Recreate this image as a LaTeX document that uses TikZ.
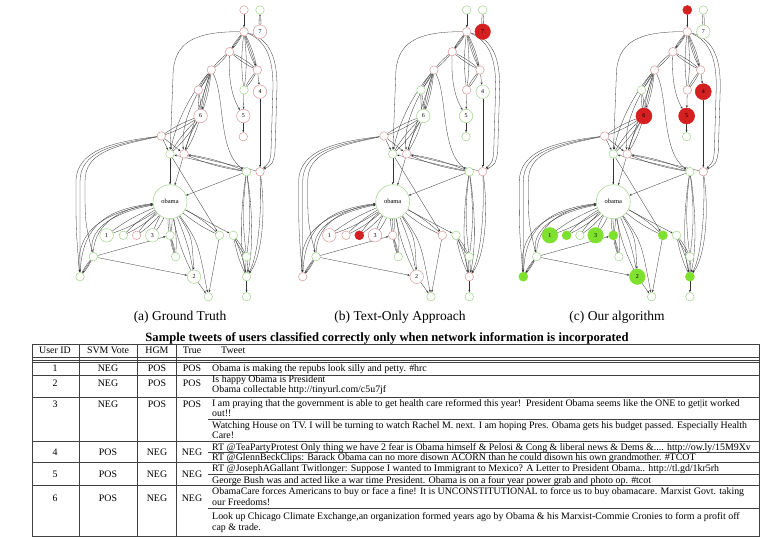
\documentclass[tikz,border=0pt]{standalone}
\usepackage{fontspec}
\setmainfont{Liberation Serif}
\usetikzlibrary{arrows.meta}
\pgfdeclarelayer{bg}
\pgfsetlayers{bg,main}
\definecolor{pkc}{RGB}{222,150,150}
\definecolor{grc}{RGB}{160,212,135}
\definecolor{rdc}{RGB}{212,32,32}
\definecolor{gfc}{RGB}{125,225,45}
\tikzset{
  nd/.style={circle, inner sep=0pt, line width=0.5pt, fill=white, font=\fontsize{6}{6}\selectfont},
  nsm/.style={nd, minimum size=8.5},
  nlb/.style={nd, minimum size=13.5},
  nob/.style={nd, minimum size=34, font=\fontsize{6.5}{6.5}\selectfont},
  pk/.style={draw=pkc},
  gr/.style={draw=grc},
  rd/.style={draw=rdc, fill=rdc},
  gf/.style={draw=gfc, fill=gfc},
  ed/.style={draw=black!80, line width=0.3pt, -{Stealth[length=2.4pt,width=1.9pt]}},
  tl/.style={draw=black!75, line width=0.6pt},
  cl/.style={font=\fontsize{9.9}{11}\selectfont, inner sep=0pt, anchor=base},
  tw/.style={font=\fontsize{9.9}{11}\selectfont, inner sep=0pt, anchor=base west},
  captxt/.style={font=\fontsize{13.5}{14}\selectfont, inner sep=0pt, anchor=base}
}
\newcommand\Eone[2]{\draw[ed] (#1) -- (#2);}
\newcommand\Etwo[2]{\draw[ed] (#1) to[bend left=7] (#2);\draw[ed] (#1) to[bend right=7] (#2);}
\newcommand\Ethree[2]{\Etwo{#1}{#2}\draw[ed] (#1) -- (#2);}
\newcommand\netnodes{%
 \node[nsm,st-t1] (t1) at (74,-191.7) {};
 \node[nsm,st-t2] (t2) at (90,-191.7) {};
 \node[nlb,st-n7] (n7) at (90,-170) {7};
 \node[nsm,st-A] (A) at (74,-170) {};
 \node[nsm,st-B] (B) at (59.6,-150) {};
 \node[nsm,st-C] (C) at (41.3,-131.7) {};
 \node[nsm,st-D] (D) at (87.3,-131.7) {};
 \node[nsm,st-E] (E) at (74,-111.7) {};
 \node[nlb,st-n4] (n4) at (90,-110) {4};
 \node[nlb,st-n5] (n5) at (73.3,-85.7) {5};
 \node[nsm,st-u5] (u5) at (73.3,-65) {};
 \node[nsm,st-F] (F) at (28.3,-111.7) {};
 \node[nlb,st-n6] (n6) at (30.6,-85.7) {6};
 \node[nsm,st-G] (G) at (-8.7,-65.7) {};
 \node[nsm,st-H] (H) at (0,-47.7) {};
 \node[nsm,st-I] (I) at (14,-47.7) {};
 \node[nsm,st-J] (J) at (76.6,-30) {};
 \node[nsm,st-K] (K) at (90,-30) {};
 \node[nob,st-ob] (ob) at (0,0) {obama};
 \node[nlb,st-n1] (n1) at (-63.4,33.6) {1};
 \node[nsm,st-s1] (s1) at (-46.7,33.6) {};
 \node[nsm,st-rf] (rf) at (-33.4,33.6) {};
 \node[nlb,st-n3] (n3) at (-17.7,33.6) {3};
 \node[nsm,st-s3] (s3) at (0,33.6) {};
 \node[nsm,st-L] (L) at (49.6,33.6) {};
 \node[nsm,st-M] (M) at (63.3,33.6) {};
 \node[nsm,st-N] (N) at (5.6,55) {};
 \node[nsm,st-O] (O) at (-76.7,55) {};
 \node[nsm,st-P] (P) at (-90,75) {};
 \node[nlb,st-n2] (n2) at (24,75) {2};
 \node[nsm,st-Q] (Q) at (38.3,95) {};
 \node[nsm,st-R] (R) at (76.6,55) {};
 \node[nsm,st-S] (S) at (76.6,75) {};
 \node[nsm,st-T] (T) at (76.6,95) {};
}
\newcommand\netedges{%
 \begin{pgfonlayer}{bg}
 \Eone{t1}{A}
 \Etwo{t2}{n7}
 \Ethree{A}{B}
 \Ethree{A}{D}
 \Etwo{A}{E}
 \draw[ed] (A) .. controls (98,-160) and (103,-140) .. (103,-115) -- (101,-50) .. controls (100,-40) .. (K);
 \draw[ed] (A) .. controls (102,-162) and (107,-140) .. (107,-115) -- (105,-50) .. controls (103,-38) .. (K);
 \draw[ed] (A) .. controls (25,-170) and (3,-160) .. (3,-125) -- (H);
 \Etwo{B}{C}
 \Etwo{B}{D}
 \draw[ed] (B) .. controls (58,-115) and (65,-100) .. (n5);
 \Etwo{C}{F}
 \Ethree{C}{n6}
 \draw[ed] (C) .. controls (22,-110) and (6,-80) .. (H);
 \draw[ed] (C) .. controls (28,-110) and (10,-80) .. (I);
 \Eone{C}{I}
 \draw[ed] (C) .. controls (55,-105) and (48,-50) .. (J);
 \Etwo{D}{E}
 \Eone{D}{n4}
 \Eone{E}{n5}
 \Eone{n5}{u5}
 \Eone{n4}{K}
 \Etwo{F}{n6}
 \Etwo{n6}{G}
 \Etwo{n6}{H}
 \Etwo{n6}{I}
 \Eone{G}{H}
 \Eone{G}{I}
 \draw[ed] (G) .. controls (-55,-60) and (-94,-52) .. (-94,-20) .. controls (-94,30) .. (P);
 \draw[ed] (G) .. controls (-58,-57) and (-90,-50) .. (-90,-20) .. controls (-90,30) .. (P);
 \draw[ed] (G) .. controls (-60,-55) and (-85,-48) .. (-85,-20) .. controls (-85,20) .. (O);
 \Eone{H}{ob}
 \Eone{I}{ob}
 \Eone{H}{L}
 \Etwo{J}{I}
 \Eone{J}{H}
 \Eone{K}{I}
 \Eone{J}{ob}
 \Etwo{J}{R}
 \draw[ed] (J) .. controls (70,10) and (70,50) .. (S);
 \draw[ed] (J) .. controls (83,10) and (83,50) .. (S);
 \draw[ed] (K) .. controls (92,10) and (88,55) .. (S);
 \draw[ed] (K) .. controls (96,10) and (92,55) .. (S);
 \Etwo{ob}{n1}
 \Etwo{ob}{s1}
 \Etwo{ob}{rf}
 \Etwo{ob}{n3}
 \Etwo{ob}{s3}
 \draw[ed] (P) .. controls (-95,35) and (-75,12) .. (ob);
 \draw[ed] (P) .. controls (-88,30) and (-70,8) .. (ob);
 \draw[ed] (O) .. controls (-82,30) and (-62,12) .. (ob);
 \draw[ed] (O) .. controls (-76,28) and (-58,8) .. (ob);
 \Etwo{ob}{N}
 \Etwo{ob}{n2}
 \draw[ed] (ob) .. controls (22,35) .. (n2);
 \draw[ed] (ob) .. controls (28,40) .. (Q);
 \Etwo{ob}{L}
 \Eone{ob}{M}
 \Ethree{O}{P}
 \Eone{O}{s3}
 \Eone{O}{n2}
 \Etwo{s3}{N}
 \Eone{n2}{Q}
 \Eone{L}{Q}
 \Etwo{M}{R}
 \Etwo{M}{S}
 \Etwo{R}{S}
 \Eone{S}{T}
 \end{pgfonlayer}
}
\begin{document}
\begin{tikzpicture}[x=1pt,y=-1pt]
\useasboundingbox (0,0) rectangle (780,540);
% panel (a)
\begin{scope}[shift={(170,201.7)}, name prefix=a-,
 st-t1/.style=pk, st-t2/.style=gr, st-n7/.style=pk, st-A/.style=pk, st-B/.style=pk,
 st-C/.style=pk, st-D/.style=pk, st-E/.style=gr, st-n4/.style=pk, st-n5/.style=pk,
 st-u5/.style=pk, st-F/.style=pk, st-n6/.style=pk, st-G/.style=pk, st-H/.style=gr,
 st-I/.style=pk, st-J/.style=gr, st-K/.style=pk, st-ob/.style=gr, st-n1/.style=gr,
 st-s1/.style=gr, st-rf/.style=pk, st-n3/.style=gr, st-s3/.style=gr, st-L/.style=gr,
 st-M/.style=gr, st-N/.style=gr, st-O/.style=gr, st-P/.style=gr, st-n2/.style=gr,
 st-Q/.style=gr, st-R/.style=gr, st-S/.style=gr, st-T/.style=gr]
 \netnodes
 \netedges
\end{scope}
% panel (b)
\begin{scope}[shift={(392.7,201.7)}, name prefix=b-,
 st-t1/.style=gr, st-t2/.style=gr, st-n7/.style={rd,minimum size=15.5}, st-A/.style=pk, st-B/.style=pk,
 st-C/.style=pk, st-D/.style=pk, st-E/.style=pk, st-n4/.style=gr, st-n5/.style=gr,
 st-u5/.style=gr, st-F/.style=gr, st-n6/.style=gr, st-G/.style=pk, st-H/.style=gr,
 st-I/.style=pk, st-J/.style=gr, st-K/.style=pk, st-ob/.style=gr, st-n1/.style=pk,
 st-s1/.style=pk, st-rf/.style={rd,minimum size=9}, st-n3/.style=pk, st-s3/.style=pk, st-L/.style=pk,
 st-M/.style=gr, st-N/.style=gr, st-O/.style=gr, st-P/.style=pk, st-n2/.style=pk,
 st-Q/.style=gr, st-R/.style=gr, st-S/.style=pk, st-T/.style=gr]
 \netnodes
 \netedges
\end{scope}
% panel (c)
\begin{scope}[shift={(613.3,201.7)}, name prefix=c-,
 st-t1/.style={rd,minimum size=9}, st-t2/.style=gr, st-n7/.style=gr, st-A/.style=pk, st-B/.style=pk,
 st-C/.style=pk, st-D/.style=pk, st-E/.style=pk, st-n4/.style={rd,minimum size=16}, st-n5/.style={rd,minimum size=16},
 st-u5/.style=gr, st-F/.style=gr, st-n6/.style={rd,minimum size=16}, st-G/.style=pk, st-H/.style=gr,
 st-I/.style=pk, st-J/.style=gr, st-K/.style=pk, st-ob/.style=gr, st-n1/.style={gf,minimum size=15.5},
 st-s1/.style={gf,minimum size=9}, st-rf/.style=gr, st-n3/.style={gf,minimum size=15.5}, st-s3/.style={gf,minimum size=9}, st-L/.style={gf,minimum size=9},
 st-M/.style=gr, st-N/.style=gr, st-O/.style=gr, st-P/.style={gf,minimum size=9}, st-n2/.style={gf,minimum size=15.5},
 st-Q/.style=gr, st-R/.style=gr, st-S/.style={gf,minimum size=9}, st-T/.style=gr]
 \netnodes
 \netedges
\end{scope}
% captions
\node[captxt] (capa) at (180,320.5) {(a) Ground Truth};
\node[captxt] (capb) at (400,320.5) {(b) Text-Only Approach};
\node[captxt] (capc) at (617,320.5) {(c) Our algorithm};
% table
\node[font=\bfseries\fontsize{12.6}{13}\selectfont, inner sep=0pt, anchor=base] (title) at (387,342)
  {Sample tweets of users classified correctly only when network information is incorporated};
\draw[tl] (32,344) rectangle (759,536);
\draw[tl] (32,357.5) -- (759,357.5);
\draw[tl] (32,360.3) -- (759,360.3);
\draw[tl] (32,362.3) -- (759,362.3);
\foreach \x in {79,137.5,176.5} \draw[tl] (\x,344) -- (\x,536);
\foreach \y in {375.5,397.5,441,462.5,485.5} \draw[tl] (32,\y) -- (759,\y);
\foreach \y in {419,452,474,508} \draw[tl] (208,\y) -- (759,\y);
% header
\node[cl] (h1) at (55,354) {User ID};
\node[cl] (h2) at (108,354) {SVM Vote};
\node[cl] (h3) at (157,354) {HGM};
\node[cl] (h4) at (192,354) {True};
\node[tw] (h5) at (221,354) {Tweet};
% values
\foreach \r/\id/\s/\h/\t/\y in {1/1/NEG/POS/POS/371, 2/2/NEG/POS/POS/387, 3/3/NEG/POS/POS/407,
  4/4/POS/NEG/NEG/455, 5/5/POS/NEG/NEG/477, 6/6/POS/NEG/NEG/501}{
  \node[cl] (id\r) at (55,\y) {\id};
  \node[cl] (svm\r) at (108,\y) {\s};
  \node[cl] (hgm\r) at (157,\y) {\h};
  \node[cl] (tru\r) at (192,\y) {\t};
}
% tweets
\node[tw] (w1) at (212,371) {Obama is making the repubs look silly and petty. \#hrc};
\node[tw] (w2a) at (212,382) {Is happy Obama is President};
\node[tw] (w2b) at (212,392.5) {Obama collectable http://tinyurl.com/c5u7jf};
\node[tw] (w3a) at (212,406.5) {I am praying that the government is able to get health care reformed this year!\ \ President Obama seems like the ONE to get|it worked};
\node[tw] (w3b) at (212,417) {out!!};
\node[tw] (w3c) at (212,428.5) {Watching House on TV. I will be turning to watch Rachel M. next. I am hoping Pres. Obama gets his budget passed. Especially Health};
\node[tw] (w3d) at (212,438) {Care!};
\node[tw] (w4a) at (212,450) {RT @TeaPartyProtest Only thing we have 2 fear is Obama himself \& Pelosi \& Cong \& liberal news \& Dems \&.... http://ow.ly/15M9Xv};
\node[tw] (w4b) at (212,460.5) {RT @GlennBeckClips: Barack Obama can no more disown ACORN than he could disown his own grandmother. \#TCOT};
\node[tw] (w5a) at (212,471.5) {RT @JosephAGallant Twitlonger: Suppose I wanted to Immigrant to Mexico? A Letter to President Obama.. http://tl.gd/1kr5rh};
\node[tw] (w5b) at (212,483) {George Bush was and acted like a war time President. Obama is on a four year power grab and photo op. \#tcot};
\node[tw] (w6a) at (212,494) {ObamaCare forces Americans to buy or face a fine! It is UNCONSTITUTIONAL to force us to buy obamacare. Marxist Govt. taking};
\node[tw] (w6b) at (212,505) {our Freedoms!};
\node[tw] (w6c) at (212,519) {Look up Chicago Climate Exchange,an organization formed years ago by Obama \& his Marxist-Commie Cronies to form a profit off};
\node[tw] (w6d) at (212,530) {cap \& trade.};
\end{tikzpicture}
\end{document}
